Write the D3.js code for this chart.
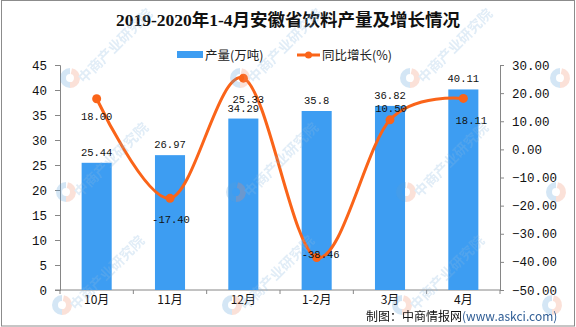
<!DOCTYPE html>
<html>
<head>
<meta charset="utf-8">
<script src="https://cdn.jsdelivr.net/npm/d3@7"></script>
<style>
  body { margin: 0; background: #fff; }
  svg { display: block; }
  .num { font-family: "Liberation Mono", "DejaVu Sans Mono", monospace; }
  .cjk { font-family: "Noto Sans CJK SC", sans-serif; }
</style>
</head>
<body>
<svg id="chart"></svg>
<script>
"use strict";

// monthly output (10k tons) and year-on-year growth (%)
const months = ["10月", "11月", "12月", "1-2月", "3月", "4月"];
const output = [25.44, 26.97, 34.29, 35.8, 36.82, 40.11];
const growth = [18.00, -17.40, 25.33, -38.46, 10.50, 18.11];
const leftTicks = [0, 5, 10, 15, 20, 25, 30, 35, 40, 45];
const rightTicks = [-50, -40, -30, -20, -10, 0, 10, 20, 30];
// label nudges for the growth values so they clear the curve
const growthLabelDx = [0, 1, 5, 4, 1, 8];
const growthLabelDy = [18, 21, 21, -3, -12, 22];

const W = 576, H = 327;
const m = {left: 60, right: 76, top: 65, bottom: 37};

const svg = d3.select("#chart").attr("width", W).attr("height", H);

svg.append("rect")
    .attr("x", 1.5).attr("y", 0.5)
    .attr("width", W - 3).attr("height", H - 1.5)
    .attr("fill", "#fff").attr("stroke", "#8c8c8c");

const x = d3.scaleBand().domain(months)
    .range([m.left, W - m.right]).paddingInner(0).paddingOuter(0);
const yL = d3.scaleLinear().domain([0, 45]).range([H - m.bottom, m.top]);
const yR = d3.scaleLinear().domain([-50, 30]).range([H - m.bottom, m.top]);

// watermark, faint stamps laid over everything at the end
const wm = svg.append("g").attr("opacity", 0.26).attr("pointer-events", "none");
const spots = [];
[78, 192, 305].forEach((yy, r) => {
    [70, 240, 410, 560].forEach(xx => spots.push([xx - r * 4, yy, xx < 500]));
});

// title
svg.append("text")
    .attr("x", 288).attr("y", 26)
    .attr("text-anchor", "middle")
    .attr("font-family", "'Liberation Serif', 'Noto Sans CJK SC', serif")
    .attr("font-weight", "bold")
    .attr("font-size", 17.5)
    .attr("fill", "#111")
    .text("2019-2020年1-4月安徽省饮料产量及增长情况");

// legend
const lg = svg.append("g").attr("class", "cjk").attr("font-size", 12.5).attr("fill", "#222");
lg.append("rect").attr("x", 177).attr("y", 51).attr("width", 26).attr("height", 7).attr("fill", "#3d9df2");
lg.append("text").attr("x", 205).attr("y", 59.5).text("产量(万吨)");
lg.append("line").attr("x1", 297).attr("x2", 320).attr("y1", 55).attr("y2", 55)
    .attr("stroke", "#fa6419").attr("stroke-width", 3);
lg.append("circle").attr("cx", 308.5).attr("cy", 55).attr("r", 3.5).attr("fill", "#fa6419");
lg.append("text").attr("x", 322).attr("y", 59.5).text("同比增长(%)");

// axes
const axisColor = "#868686";

const gL = svg.append("g")
    .attr("transform", `translate(${m.left},0)`)
    .call(d3.axisLeft(yL).tickValues(leftTicks).tickSize(5).tickPadding(8));
const gR = svg.append("g")
    .attr("transform", `translate(${W - m.right},0)`)
    .call(d3.axisRight(yR).tickValues(rightTicks).tickSize(4).tickPadding(8)
        .tickFormat(d3.format(".2f")));
[gL, gR].forEach(g => {
    g.select(".domain").attr("stroke", axisColor);
    g.selectAll(".tick line").attr("stroke", axisColor);
    g.selectAll(".tick text")
        .attr("class", "num")
        .attr("font-size", 12.5)
        .attr("fill", "#111");
});

const base = H - m.bottom;
svg.append("line")
    .attr("x1", m.left - 5).attr("x2", W - m.right)
    .attr("y1", base).attr("y2", base)
    .attr("stroke", axisColor);
const bounds = months.map(d => x(d)).concat([x.range()[1]]);
svg.selectAll("line.xtick").data(bounds).join("line")
    .attr("class", "xtick")
    .attr("x1", d => d).attr("x2", d => d)
    .attr("y1", base).attr("y2", base + 4)
    .attr("stroke", axisColor);
svg.selectAll("text.xlab").data(months).join("text")
    .attr("class", "xlab cjk")
    .attr("x", d => x(d) + x.bandwidth() / 2)
    .attr("y", base + 14)
    .attr("text-anchor", "middle")
    .attr("font-size", 12)
    .attr("fill", "#111")
    .text(d => d);

// bars
const bw = x.bandwidth() * 0.41;
svg.selectAll("rect.bar").data(output).join("rect")
    .attr("class", "bar")
    .attr("x", (d, i) => x(months[i]) + (x.bandwidth() - bw) / 2)
    .attr("y", d => yL(d))
    .attr("width", bw)
    .attr("height", d => base - yL(d))
    .attr("fill", "#3d9df2");

svg.selectAll("text.barlab").data(output).join("text")
    .attr("class", "barlab num")
    .attr("x", (d, i) => x(months[i]) + x.bandwidth() / 2)
    .attr("y", d => yL(d) - 7)
    .attr("text-anchor", "middle")
    .attr("font-size", 10.5)
    .attr("fill", "#111")
    .text(d => d);

// growth line
const cx = i => x(months[i]) + x.bandwidth() / 2;
const line = d3.line()
    .x((d, i) => cx(i))
    .y(d => yR(d))
    .curve(d3.curveCatmullRom.alpha(0));

svg.append("path")
    .datum(growth)
    .attr("d", line)
    .attr("fill", "none")
    .attr("stroke", "#fa6419")
    .attr("stroke-width", 3);

svg.selectAll("circle.pt").data(growth).join("circle")
    .attr("class", "pt")
    .attr("cx", (d, i) => cx(i))
    .attr("cy", d => yR(d))
    .attr("r", 4.5)
    .attr("fill", "#fa6419");

svg.selectAll("text.glab").data(growth).join("text")
    .attr("class", "glab num")
    .attr("x", (d, i) => cx(i) + growthLabelDx[i])
    .attr("y", (d, i) => yR(d) + growthLabelDy[i])
    .attr("dy", "0.35em")
    .attr("text-anchor", "middle")
    .attr("font-size", 10.5)
    .attr("fill", "#111")
    .text(d => d.toFixed(2));

spots.forEach(([px, py, withText]) => {
    const g = wm.append("g").attr("transform", `translate(${px},${py})`);
    g.append("path").attr("d", d3.arc()({innerRadius: 4, outerRadius: 10, startAngle: Math.PI, endAngle: 2 * Math.PI}))
        .attr("fill", "#5aa0d8");
    g.append("path").attr("d", d3.arc()({innerRadius: 4, outerRadius: 10, startAngle: 0.2, endAngle: Math.PI}))
        .attr("fill", "#f08a6a");
    if (!withText) return;
    g.append("text")
        .attr("class", "cjk")
        .attr("transform", "translate(14,6) rotate(-45)")
        .attr("font-size", 14)
        .attr("font-weight", "bold")
        .attr("fill", "#8ab8e0")
        .text("中商产业研究院");
});
wm.raise();

// source
const src = svg.append("text")
    .attr("class", "cjk")
    .attr("x", 366).attr("y", 321)
    .attr("font-size", 12)
    .attr("fill", "#111");
src.append("tspan").text("制图：中商情报网");
src.append("tspan").attr("fill", "#2f5d95").text("(www.askci.com)");
</script>
</body>
</html>
